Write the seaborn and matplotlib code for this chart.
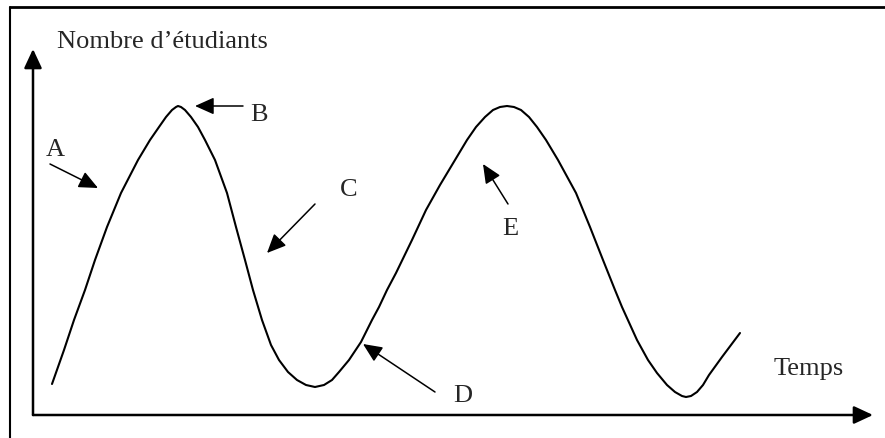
import matplotlib
matplotlib.use('Agg')
import matplotlib.pyplot as plt
from matplotlib.lines import Line2D
import pandas as pd
import seaborn as sns

# Courbe (temps, nombre d'etudiants), origine au coin des axes
temps = [19, 31, 41, 52, 62, 74, 88, 105, 117, 126, 133, 139, 143, 145,
         148, 152, 158, 165, 172, 182, 194, 203, 212, 220, 229, 238, 246,
         255, 264, 273, 282,
         291, 299, 306, 316, 328, 339, 346, 354, 363, 379, 393, 407, 422,
         434, 443, 452, 460, 467, 474,
         481, 488, 496, 504, 513, 525, 543, 557, 570, 582, 589, 604, 615,
         624, 634, 642, 649, 653, 658, 664, 670, 676, 689, 707]
etudiants = [31, 65, 95, 125, 155, 188, 222, 255, 275, 288, 298, 305, 308, 309,
             308, 305, 298, 288, 275, 255, 222, 188, 155, 125, 95, 70, 55,
             43, 35, 30, 28,
             30, 35, 43, 55, 73, 95, 108, 125, 142, 175, 205, 230, 255,
             275, 288, 298, 305, 308, 309,
             308, 305, 298, 288, 275, 255, 222, 188, 155, 125, 108, 75, 55,
             42, 30, 23, 19, 18, 19, 23, 30, 40, 58, 82]

# Etiquettes et fleches (texte, position du texte, queue, pointe)
etiquettes = ['A', 'B', 'C', 'D', 'E']
pos_texte = [(22, 265), (226, 300), (316, 225), (430, 19), (477, 186)]
queues = [(17, 251), (210, 309), (282, 211), (402, 23), (475, 211)]
pointes = [(65, 227), (162, 309), (234, 162), (330, 71), (450, 251)]

titre_y = "Nombre d\u2019\u00e9tudiants"
titre_x = "Temps"

sns.set_theme(style='white')
plt.rcParams['font.family'] = ['Liberation Serif', 'DejaVu Serif']

fig = plt.figure(figsize=(8.85, 4.38), dpi=100)
ax = fig.add_axes([0, 0, 1, 1])
ax.set_xlim(-33, 852)
ax.set_ylim(-23, 415)
ax.axis('off')

df = pd.DataFrame({'temps': temps, 'etudiants': etudiants})
sns.lineplot(data=df, x='temps', y='etudiants', sort=False, estimator=None,
             color='black', linewidth=1.5, ax=ax)

# axes avec fleches
fleche_axe = dict(arrowstyle='-|>,head_length=0.58,head_width=0.27',
                  mutation_scale=20, color='black', lw=1.8,
                  shrinkA=0, shrinkB=0)
ax.annotate('', xy=(0, 366), xytext=(0, 0), arrowprops=fleche_axe)
ax.annotate('', xy=(840, 0), xytext=(0, 0), arrowprops=fleche_axe)

fleche = dict(arrowstyle='-|>,head_length=0.58,head_width=0.26',
              mutation_scale=20, color='black', lw=1.1,
              shrinkA=0, shrinkB=0)
for lab, pt, q, p in zip(etiquettes, pos_texte, queues, pointes):
    ax.annotate('', xy=p, xytext=q, arrowprops=fleche)
    ax.text(pt[0], pt[1], lab, fontsize=19, ha='center', va='center')

ax.text(24, 367, titre_y, fontsize=19, ha='left', va='baseline')
ax.text(776, 46, titre_x, fontsize=19, ha='center', va='center')

# cadre autour de la figure
fig.add_artist(Line2D([9.5 / 885, 1], [1 - 7 / 438, 1 - 7 / 438],
                      color='black', lw=2))
fig.add_artist(Line2D([9.5 / 885, 9.5 / 885], [0, 1 - 7 / 438],
                      color='black', lw=1.5))

fig.savefig('out.png', dpi=100)
